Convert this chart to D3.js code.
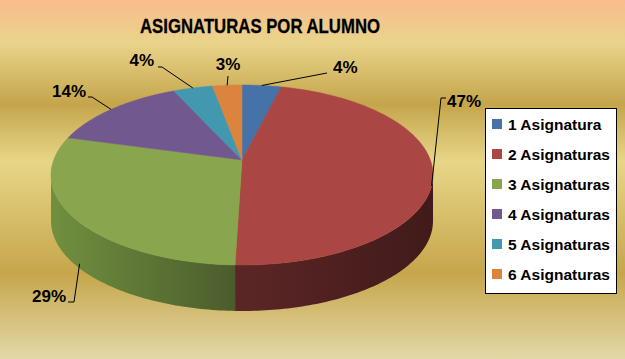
<!DOCTYPE html>
<html>
<head>
<meta charset="utf-8">
<script src="https://cdn.jsdelivr.net/npm/d3@7"></script>
<style>
  body { margin: 0; }
  svg { display: block; font-family: "Liberation Sans", Arial, sans-serif; }
</style>
</head>
<body>
<div id="chart"></div>
<script>
// data (percent of students)
let categories = ["1 Asignatura", "2 Asignaturas", "3 Asignaturas", "4 Asignaturas", "5 Asignaturas", "6 Asignaturas"]
let values = [4, 47, 29, 14, 4, 3]
let colors = ["#4572a7", "#aa4643", "#89a54e", "#71588f", "#4198af", "#db843d"]
let sideLight = ["#3a5f8c", "#5c2626", "#71903f", "#5c4776", "#357f93", "#b56c30"]
let sideDark = ["#2b4a6d", "#421a1a", "#4b5c2c", "#45355a", "#286272", "#8c5424"]

let svgWidth = 625
let svgHeight = 359

let svg = d3.select("#chart").append("svg")
    .attr("width", svgWidth).attr("height", svgHeight)

let defs = svg.append("defs")

// background
let bg = defs.append("linearGradient").attr("id", "bg")
    .attr("x1", 0).attr("y1", 0).attr("x2", 0).attr("y2", 1)
let bgStops = [[0, "#f9bc8e"], [0.12, "#e9d48a"], [0.29, "#c5a54b"], [0.45, "#e7d688"], [0.76, "#c6a64b"], [1, "#e3d8a9"]]
bgStops.forEach(s => bg.append("stop").attr("offset", s[0]).attr("stop-color", s[1]))
svg.append("rect").attr("width", svgWidth).attr("height", svgHeight).attr("fill", "url(#bg)")

// title
svg.append("text")
    .attr("x", 260).attr("y", 33)
    .attr("text-anchor", "middle")
    .attr("font-size", 20.5).attr("font-weight", "bold")
    .attr("stroke", "#000").attr("stroke-width", 0.3)
    .attr("textLength", 240).attr("lengthAdjust", "spacingAndGlyphs")
    .text("ASIGNATURAS POR ALUMNO")

/* PIE GEOMETRY */
let cx = 242, cy = 175, rx = 191, ry = 90, depth = 46
let vx = 242, vy = 160   // where slices meet (perspective shifted)
let skew = Math.asin((cy - vy) / ry)   // pushes the sides toward the back

let pie = d3.pie().sort(null).value(d => d)
// perspective: true angle -> angle on the drawn ellipse
let arcs = pie(values).map(d => Object.assign({}, d, {
    startAngle: d.startAngle - skew * Math.sin(d.startAngle),
    endAngle: d.endAngle - skew * Math.sin(d.endAngle)
}))

function pt(a, dy) {
    return [cx + rx * Math.sin(a), cy - ry * Math.cos(a) + (dy || 0)]
}
function arcPoints(a0, a1, dy) {
    let n = Math.max(2, Math.ceil((a1 - a0) / 0.02))
    return d3.range(n + 1).map(i => pt(a0 + (a1 - a0) * i / n, dy))
}

// side walls (only the front half shows)
arcs.forEach((d, i) => {
    let a0 = Math.max(d.startAngle, Math.PI / 2)
    let a1 = Math.min(d.endAngle, Math.PI * 1.5)
    if (a1 <= a0) return
    let g = defs.append("linearGradient").attr("id", "side" + i)
    g.append("stop").attr("offset", 0).attr("stop-color", sideLight[i])
    g.append("stop").attr("offset", 1).attr("stop-color", sideDark[i])
    let top = arcPoints(a0, a1, 0)
    let bottom = arcPoints(a0, a1, depth).reverse()
    svg.append("path")
        .attr("d", d3.line()(top.concat(bottom)) + "Z")
        .attr("fill", "url(#side" + i + ")")
})

// top faces
arcs.forEach((d, i) => {
    let p = [[vx, vy]].concat(arcPoints(d.startAngle, d.endAngle, 0))
    svg.append("path")
        .attr("d", d3.line()(p) + "Z")
        .attr("fill", colors[i])
        .attr("stroke", colors[i]).attr("stroke-width", 0.5)
})

/* DATA LABELS */
// label spot and leader elbow for each slice
let labelLayout = [
    { x: 333, y: 73, anchor: "start", elbow: [327, 73], end: [327, 73] },
    { x: 447, y: 107, anchor: "start", elbow: [441, 98], end: [446, 98] },
    { x: 66, y: 302, anchor: "end", elbow: [74, 302], end: [68, 302] },
    { x: 86, y: 97, anchor: "end", elbow: [92, 97], end: [88, 97] },
    { x: 154, y: 66, anchor: "end", elbow: [162, 67], end: [158, 67] },
    { x: 228, y: 70, anchor: "middle", elbow: [228, 76], end: [228, 76] }
]
let total = d3.sum(values)

arcs.forEach((d, i) => {
    let mid = (d.startAngle + d.endAngle) / 2
    let a = pt(mid, 0)
    if (Math.cos(mid) < -0.2) a = pt(mid, depth * 0.9)
    let L = labelLayout[i]
    svg.append("path")
        .attr("d", d3.line()([a, L.elbow, L.end]))
        .attr("fill", "none").attr("stroke", "#000").attr("stroke-width", 1)
    svg.append("text")
        .attr("x", L.x).attr("y", L.y)
        .attr("text-anchor", L.anchor)
        .attr("font-size", 17).attr("font-weight", "bold")
        .text(Math.round(values[i] / total * 100) + "%")
})

/* LEGEND */
let legend = svg.append("g")
legend.append("rect")
    .attr("x", 485.5).attr("y", 108.5).attr("width", 131).attr("height", 185)
    .attr("fill", "#fff").attr("stroke", "#000").attr("stroke-width", 1)

let rowY = d3.scalePoint().domain(categories).range([130, 280])
categories.forEach((c, i) => {
    legend.append("rect")
        .attr("x", 492).attr("y", rowY(c) - 11).attr("width", 10).attr("height", 10)
        .attr("fill", colors[i])
    legend.append("text")
        .attr("x", 508).attr("y", rowY(c))
        .attr("font-size", 15.5).attr("font-weight", "bold")
        .text(c)
})
</script>
</body>
</html>
